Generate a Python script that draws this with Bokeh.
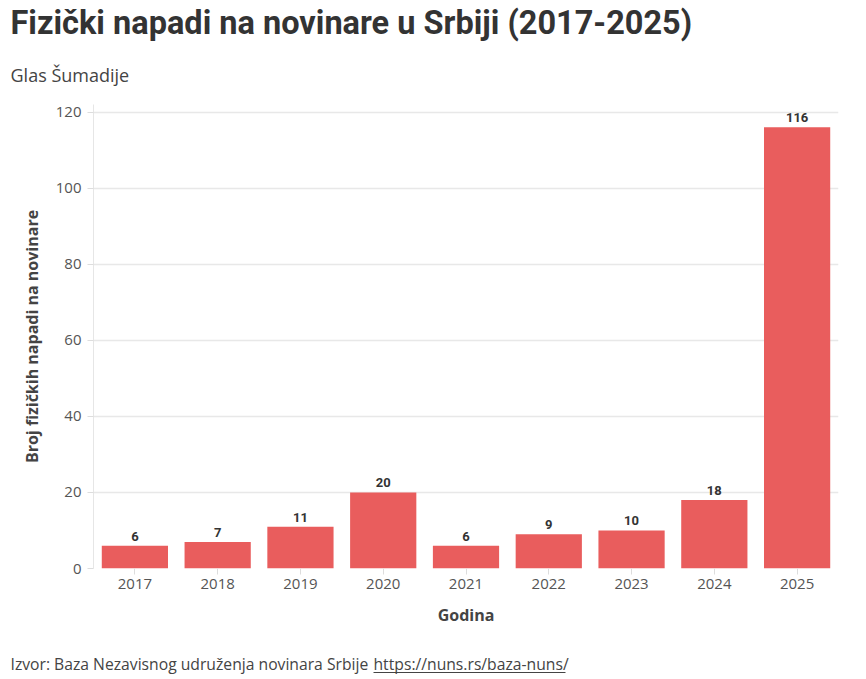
from bokeh.plotting import figure
from bokeh.models import ColumnDataSource, Label, Range1d, FixedTicker, Title
from bokeh.layouts import column
from bokeh.core.properties import value
from bokeh.embed import file_html
from bokeh.resources import INLINE

years = ["2017", "2018", "2019", "2020", "2021", "2022", "2023", "2024", "2025"]
attacks = [6, 7, 11, 20, 6, 9, 10, 18, 116]
y_ticks = [0, 20, 40, 60, 80, 100, 120]

title_text = "Fizički napadi na novinare u Srbiji (2017-2025)"
subtitle_text = "Glas Šumadije"
y_label = "Broj fizičkih napadi na novinare"
x_label = "Godina"
source_text = "Izvor: Baza Nezavisnog udruženja novinara Srbije"
link_text = "https://nuns.rs/baza-nuns/"

TFONT = "Roboto"
FONT = "Open Sans"
W = 866
MAIN_H, FOOT_H = 640, 39

# main chart
src = ColumnDataSource(dict(year=years, n=attacks, lab=[str(v) for v in attacks]))
p = figure(x_range=years, y_range=Range1d(0, 122), width=W, height=MAIN_H,
           output_backend="svg", toolbar_location=None,
           min_border_left=93, min_border_right=28, min_border_top=0, min_border_bottom=72)
p.outline_line_color = None
p.title = None
p.add_layout(Title(text=subtitle_text, align="left", offset=-83, text_font=FONT,
                   text_font_size="18px", text_font_style="normal", text_color="#444444",
                   standoff=35), "above")
p.add_layout(Title(text=title_text, align="left", offset=-83, text_font=TFONT,
                   text_font_size="32.5px", text_font_style="bold", text_color="#333333",
                   standoff=3), "above")

p.vbar(x="year", top="n", width=0.8, source=src, fill_color="#e95d5d", line_color=None)
p.text(x="year", y="n", text="lab", source=src, text_align="center", text_baseline="bottom",
       y_offset=-5, text_font_size="13px", text_font_style="bold", text_color="#333333",
       text_font=value(TFONT))

p.yaxis.ticker = FixedTicker(ticks=y_ticks)
p.yaxis.axis_label = y_label
p.xaxis.axis_label = x_label
for ax in (p.xaxis[0], p.yaxis[0]):
    ax.axis_label_text_font = FONT
    ax.axis_label_text_font_style = "bold"
    ax.axis_label_text_font_size = "16px"
    ax.axis_label_text_color = "#444444"
    ax.major_label_text_font = FONT
    ax.major_label_text_font_size = "15px"
    ax.major_label_text_color = "#555555"
    ax.major_tick_line_color = "#dddddd"
    ax.minor_tick_line_color = None
    ax.major_tick_in = 0
    ax.major_tick_out = 6
p.xaxis.axis_line_color = None
p.yaxis.axis_line_color = "#e6e6e6"
p.yaxis.major_label_standoff = 6
p.xaxis.major_label_standoff = 4
p.xaxis.axis_label_standoff = 12
p.yaxis.axis_label_standoff = 10
p.xgrid.grid_line_color = None
p.ygrid.grid_line_color = "#e8e8e8"
p.ygrid.grid_line_width = 1.5

# footer (own panel, nested so that its frame is not aligned with the chart's)
foot = figure(width=W, height=FOOT_H, x_range=Range1d(0, W), y_range=Range1d(FOOT_H, 0),
              output_backend="svg", toolbar_location=None,
              min_border_left=0, min_border_right=0, min_border_top=0, min_border_bottom=0)
foot.axis.visible = False
foot.grid.visible = False
foot.outline_line_color = None
foot.add_layout(Label(x=10, y=23, text=source_text, text_font=FONT, text_font_size="15.7px",
                      text_color="#444444", text_baseline="middle"))
foot.add_layout(Label(x=373, y=23, text=link_text, text_font=FONT, text_font_size="15.7px",
                      text_color="#444444", text_baseline="middle"))
foot.segment(x0=[373], y0=[32], x1=[565], y1=[32], line_color="#444444", line_width=1)

layout = column(p, column(foot, spacing=0), spacing=0)
open("out.html", "w").write(file_html(layout, INLINE))
